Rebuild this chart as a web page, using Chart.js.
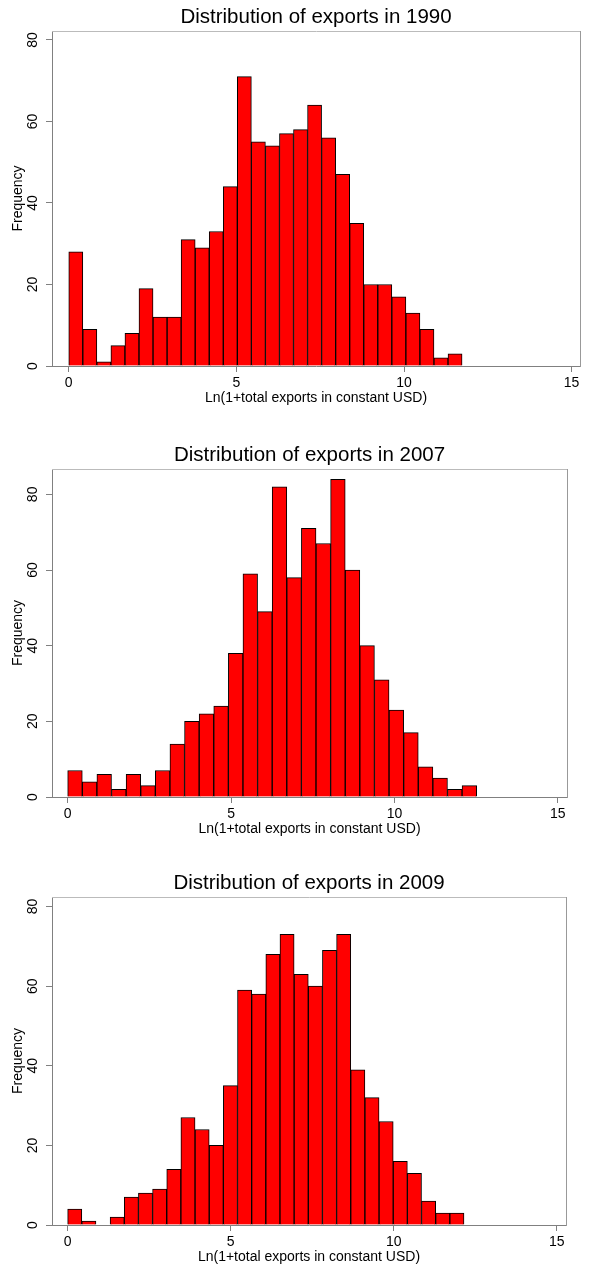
<!DOCTYPE html>
<html>
<head>
<meta charset="utf-8">
<title>Distribution of exports</title>
<script src="https://cdn.jsdelivr.net/npm/chart.js@4.4.1/dist/chart.umd.min.js"></script>
<style>
  body { margin: 0; background: #fff; }
  .panel { position: absolute; left: 0; }
</style>
</head>
<body>
<script>
// histogram counts, 28 bins starting at 0
const years = ["1990", "2007", "2009"];
const counts1990 = [28, 9, 1, 5, 8, 19, 12, 12, 31, 29, 33, 44, 71, 55, 54, 57, 58, 64, 56, 47, 35, 20, 20, 17, 13, 9, 2, 3];
const counts2007 = [7, 4, 6, 2, 6, 3, 7, 14, 20, 22, 24, 38, 59, 49, 82, 58, 71, 67, 84, 60, 40, 31, 23, 17, 8, 5, 2, 3];
const counts2009 = [4, 1, 0, 2, 7, 8, 9, 14, 27, 24, 20, 35, 59, 58, 68, 73, 63, 60, 69, 73, 39, 32, 26, 16, 13, 6, 3, 3];
const binWidths = [0.419, 0.447, 0.434];
const xTicks = [0, 5, 10, 15];
const yTicks = [0, 20, 40, 60, 80];
const xTitle = "Ln(1+total exports in constant USD)";
const yTitle = "Frequency";

// plot boxes on the page (px) and axis ranges of each panel
const frames = [
  { top: 31, bottom: 366, left: 52, right: 580, xMin: -0.5, xMax: 15.25, yMax: 82.2 },
  { top: 469, bottom: 797, left: 52, right: 567, xMin: -0.48, xMax: 15.28, yMax: 86.7 },
  { top: 897, bottom: 1225, left: 52, right: 566, xMin: -0.48, xMax: 15.28, yMax: 82.4 }
];
const allCounts = [counts1990, counts2007, counts2009];

Chart.defaults.font.family = '"Liberation Sans", Arial, sans-serif';
Chart.defaults.color = '#000';

const TOP_SPACE = 31;
const BOTTOM_SPACE = 46;

function makePanel(k) {
  const f = frames[k];
  const counts = allCounts[k];
  const w = binWidths[k];
  const canvasTop = f.top - TOP_SPACE;
  const h = f.bottom + BOTTOM_SPACE - canvasTop;

  const div = document.createElement('div');
  div.className = 'panel';
  div.style.top = canvasTop + 'px';
  const cv = document.createElement('canvas');
  cv.width = 589;
  cv.height = h;
  cv.style.width = '589px';
  cv.style.height = h + 'px';
  div.appendChild(cv);
  document.body.appendChild(div);

  const points = counts.map((c, i) => ({ x: (i + 0.5) * w, y: c }));

  new Chart(cv, {
    type: 'bar',
    data: {
      datasets: [{
        data: points,
        backgroundColor: '#ff0000',
        borderColor: '#000',
        borderWidth: 1,
        borderSkipped: 'start',
        barPercentage: 1,
        categoryPercentage: 1
      }]
    },
    options: {
      responsive: false,
      animation: false,
      devicePixelRatio: 1,
      layout: { padding: { left: 0, right: 589 - f.right, top: 0, bottom: 0 } },
      plugins: { legend: { display: false }, tooltip: { enabled: false } },
      scales: {
        x: {
          type: 'linear',
          position: 'bottom',
          min: f.xMin,
          max: f.xMax,
          offset: false,
          afterBuildTicks: s => { s.ticks = xTicks.map(v => ({ value: v })); },
          afterFit: s => { s.height = BOTTOM_SPACE; },
          grid: { display: true, drawOnChartArea: false, offset: false, tickLength: 6, color: '#808080' },
          border: { display: true, color: '#808080', width: 1 },
          ticks: { font: { size: 14 }, padding: 3, maxRotation: 0, autoSkip: false },
          title: { display: true, text: xTitle, font: { size: 14 }, padding: { top: 0, bottom: 5 } }
        },
        y: {
          type: 'linear',
          position: 'left',
          min: 0,
          max: f.yMax,
          afterBuildTicks: s => { s.ticks = yTicks.map(v => ({ value: v })); },
          afterFit: s => { s.width = f.left; },
          grid: { display: true, drawOnChartArea: false, tickLength: 6, color: '#808080' },
          border: { display: true, color: '#808080', width: 1 },
          ticks: { font: { size: 14 }, padding: 5, minRotation: 90, maxRotation: 90, crossAlign: 'center', autoSkip: false },
          title: { display: true, text: yTitle, font: { size: 14 }, padding: { top: 10, bottom: 0 } }
        },
        x2: {
          type: 'linear',
          axis: 'x',
          position: 'top',
          afterFit: s => { s.height = TOP_SPACE; },
          grid: { display: false },
          ticks: { display: false },
          border: { display: true, color: '#bbbbbb', width: 1 },
          title: { display: true, text: 'Distribution of exports in ' + years[k], font: { size: 20.5 }, padding: { top: 5, bottom: 0 } }
        },
        y2: {
          type: 'linear',
          axis: 'y',
          position: 'right',
          afterFit: s => { s.width = 0; },
          grid: { display: false },
          ticks: { display: false },
          border: { display: true, color: '#999999', width: 1 }
        }
      }
    }
  });
}

frames.forEach((f, k) => makePanel(k));
</script>
</body>
</html>
